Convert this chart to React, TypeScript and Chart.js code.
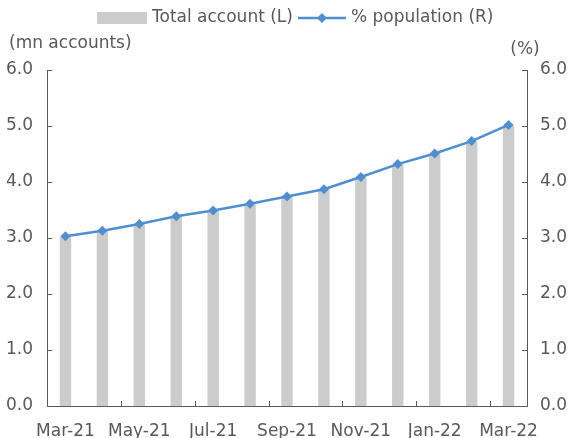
import React, { useEffect, useRef } from "react";
import { Chart, registerables } from "chart.js";

Chart.register(...registerables);

const categories = ["Mar-21", "Apr-21", "May-21", "Jun-21", "Jul-21", "Aug-21", "Sep-21", "Oct-21", "Nov-21", "Dec-21", "Jan-22", "Feb-22", "Mar-22"];
const totalAccount = [3.02, 3.12, 3.24, 3.38, 3.48, 3.6, 3.73, 3.86, 4.08, 4.31, 4.5, 4.72, 5.01];
const populationPct = [3.03, 3.13, 3.25, 3.39, 3.49, 3.61, 3.74, 3.87, 4.09, 4.32, 4.51, 4.73, 5.02];
const yTicks = [0, 1, 2, 3, 4, 5, 6];

const FONT = "'DejaVu Sans', Verdana, sans-serif";
const FS = 17;
const TEXT = "#595959";
const AXIS = "#595959";
const BAR = "#cccccc";
const LINE = "#4f8fd1";

const decorPlugin = {
  id: "decor",
  afterDraw(chart: any) {
    const { ctx, chartArea, scales } = chart;
    ctx.save();
    ctx.strokeStyle = AXIS;
    ctx.lineWidth = 1;
    // inward ticks on y axes
    for (const v of yTicks) {
      const y = Math.round(scales.y.getPixelForValue(v)) + 0.5;
      ctx.beginPath();
      ctx.moveTo(chartArea.left, y);
      ctx.lineTo(chartArea.left + 5, y);
      ctx.moveTo(chartArea.right, y);
      ctx.lineTo(chartArea.right - 5, y);
      ctx.stroke();
    }
    // x ticks at category boundaries every two categories
    for (let i = 1; i < categories.length - 1; i += 2) {
      const x = Math.round((scales.x.getPixelForValue(i) + scales.x.getPixelForValue(i + 1)) / 2) + 0.5;
      ctx.beginPath();
      ctx.moveTo(x, chartArea.bottom);
      ctx.lineTo(x, chartArea.bottom - 5);
      ctx.stroke();
    }
    // axis titles
    ctx.fillStyle = TEXT;
    ctx.font = `${FS}px ${FONT}`;
    ctx.textBaseline = "middle";
    ctx.textAlign = "left";
    ctx.fillText("(mn accounts)", 9, 44);
    ctx.textAlign = "center";
    ctx.fillText("(%)", 525, 50);
    // legend
    const ly = 18;
    let x = 97;
    ctx.fillStyle = BAR;
    ctx.fillRect(x, ly - 6, 50, 12);
    x += 55;
    ctx.fillStyle = TEXT;
    ctx.textAlign = "left";
    const t1 = "Total account (L)";
    ctx.fillText(t1, x, ly);
    x += ctx.measureText(t1).width + 5;
    ctx.strokeStyle = LINE;
    ctx.lineWidth = 2.5;
    ctx.beginPath();
    ctx.moveTo(x, ly);
    ctx.lineTo(x + 48, ly);
    ctx.stroke();
    ctx.fillStyle = LINE;
    ctx.beginPath();
    ctx.moveTo(x + 24, ly - 5);
    ctx.lineTo(x + 29, ly);
    ctx.lineTo(x + 24, ly + 5);
    ctx.lineTo(x + 19, ly);
    ctx.closePath();
    ctx.fill();
    x += 53;
    ctx.fillStyle = TEXT;
    ctx.fillText("% population (R)", x, ly);
    ctx.restore();
  },
};

export default function App() {
  const ref = useRef<HTMLCanvasElement>(null);
  useEffect(() => {
    if (!ref.current) return;
    const chart = new Chart(ref.current, {
      type: "bar",
      data: {
        labels: categories,
        datasets: [
          {
            type: "line",
            label: "% population (R)",
            data: populationPct,
            yAxisID: "y1",
            borderColor: LINE,
            backgroundColor: LINE,
            borderWidth: 2.5,
            pointStyle: "rectRot",
            pointRadius: 5,
            pointBorderWidth: 0,
            tension: 0,
            order: 0,
          } as any,
          {
            type: "bar",
            label: "Total account (L)",
            data: totalAccount,
            yAxisID: "y",
            backgroundColor: BAR,
            categoryPercentage: 1,
            barPercentage: 0.31,
            order: 1,
          },
        ],
      },
      options: {
        animation: false,
        responsive: false,
        layout: { padding: { top: 70, left: 0, right: 0, bottom: 0 } },
        plugins: { legend: { display: false }, tooltip: { enabled: false } },
        scales: {
          x: {
            offset: true,
            grid: { display: false, drawTicks: false },
            border: { display: true, color: AXIS, width: 1 },
            ticks: {
              autoSkip: false,
              maxRotation: 0,
              padding: 15,
              color: TEXT,
              font: { family: FONT, size: FS },
              callback: (_v: any, i: number) => (i % 2 === 0 ? categories[i] : ""),
            },
            afterFit: (s: any) => { s.height = 32; },
          },
          y: {
            position: "left",
            min: 0,
            max: 6,
            grid: { display: false, drawTicks: false },
            border: { display: true, color: AXIS, width: 1 },
            ticks: {
              stepSize: 1,
              padding: 14,
              color: TEXT,
              font: { family: FONT, size: FS },
              callback: (v: any) => Number(v).toFixed(1),
            },
            afterFit: (s: any) => { s.width = 47; },
          },
          y1: {
            position: "right",
            min: 0,
            max: 6,
            grid: { display: false, drawTicks: false },
            border: { display: true, color: AXIS, width: 1 },
            ticks: {
              stepSize: 1,
              padding: 13,
              color: TEXT,
              font: { family: FONT, size: FS },
              callback: (v: any) => Number(v).toFixed(1),
            },
            afterFit: (s: any) => { s.width = 47; },
          },
        },
      },
      plugins: [decorPlugin],
    });
    return () => chart.destroy();
  }, []);
  return (
    <div style={{ position: "fixed", left: 0, top: 0, width: 574, height: 438, background: "#fff" }}>
      <canvas ref={ref} width={574} height={438} style={{ width: 574, height: 438, display: "block" }} />
    </div>
  );
}
